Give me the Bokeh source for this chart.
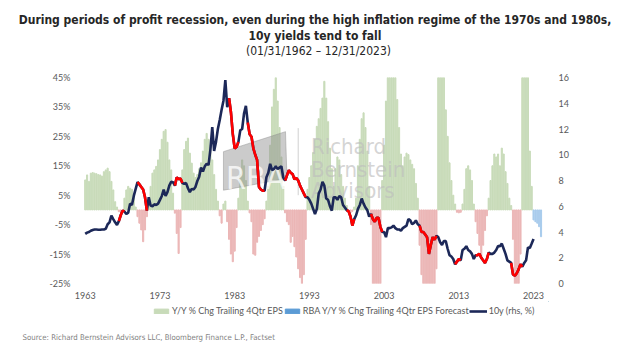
import numpy as np
from bokeh.plotting import figure
from bokeh.layouts import column
from bokeh.models import (Range1d, LinearAxis, FixedTicker, PrintfTickFormatter,
                          Legend, LegendItem, ColumnDataSource, Title)
from bokeh.embed import file_html
from bokeh.resources import INLINE
from bokeh.core.properties import value

# ---------------- data (quarterly) ----------------
first_quarter = 1963.0
quarter = 0.25

# Y/Y % change trailing 4-quarter EPS, 1963Q1 .. 2022Q4
eps_growth = [
    10.2, 11.9, 9.7, 12.5,   12.7, 12.5, 12.3, 12.0,   11.9, 11.5, 13.0, 13.6,   14.2, 13.0, 9.7, 6.8,
    2.8, 1.0, -0.6, -0.8,    -0.4, 4.0, 6.8, 8.0,      7.4, 7.0, 4.5, 1.0,       -2.3, -4.5, -6.8, -10.8,
    -6.8, -2.3, 2.3, 8.0,    12.5, 13.6, 14.8, 17.0,   20.5, 24.0, 26.7, 27.3,   23.0, 17.0, 13.6, 5.7,
    -1.1, -8.0, -14.8, -6.0, 13.6, 20.5, 23.3, 24.4,   19.3, 15.9, 12.5, 11.0,   12.0, 14.0, 16.0, 20.0,
    24.0, 26.0, 24.0, 22.0,  17.0, 12.0, 7.0, 3.0,     -2.0, -4.5, 2.0, 3.0,     -4.0, -10.0, -15.0, -17.6,
    -14.0, -6.0, 4.0, 12.0,  17.0, 15.0, 10.0, 3.0,    -1.0, -4.0, -15.0, -15.4, -11.0, -9.0, -7.0, -5.0,
    -3.0, 3.0, 8.0, 22.0,    35.0, 41.0, 48.0, 37.0,   28.0, 18.0, 8.0, -1.0,    -4.0, -5.0, -11.0, -9.0,
    -12.5, -16.0, -20.0, -23.0, -27.0, -22.0, -10.0, 7.0, 11.0, 15.0, 19.5, 24.0, 28.4, 31.0, 34.5, 38.0,
    43.7, 38.0, 30.0, 21.0,  14.0, 8.0, 14.0, 18.0,    17.0, 12.0, 8.0, 4.0,     1.5, -0.8, -1.0, -0.5,
    1.0, 4.0, 15.0, 24.0,    31.0, 33.0, 28.0, 20.0,   8.0, -5.0, -30.0, -45.0,  -50.0, -40.0, -30.0, 10.0,
    22.0, 37.0, 55.0, 70.0,  65.0, 55.0, 48.0, 37.5,   28.0, 19.0, 15.0, 18.0,   19.3, 18.8, 17.0, 15.5,
    14.0, 9.0, 4.0, -12.0,   -22.0, -35.0, -50.0, -70.0, -80.0, -75.0, -60.0, -40.0, -20.0, 60.0, 90.0, 80.0,
    55.0, 34.0, 25.0, 16.0,  10.0, 5.0, 2.0, -0.8,     -1.0, -0.8, 2.0, 7.0,     14.0, 15.0, 13.6, 10.0,
    2.0, -4.0, -8.0, -12.0,  -16.0, -12.0, -7.0, -2.0, 4.0, 10.0, 15.0, 19.0,    18.0, 19.0, 15.0, 21.0,
    19.0, 13.0, 9.0, 4.0,    1.5, -10.0, -30.0, -35.0, -28.0, -15.0, 60.0, 70.0, 65.0, 50.0, 20.0, 8.0,
]

# RBA forecast of Y/Y % change trailing 4-quarter EPS
forecast_quarters = [2023.0, 2023.25, 2023.5, 2023.75, 2024.0]
eps_forecast = [-3.4, -4.0, -4.5, -5.7, -9.1]

# 10-year Treasury yield (%), 1963Q1 .. 2023Q1
yield_10y = [
    3.85, 3.95, 4.00, 4.10,  4.16, 4.20, 4.19, 4.18,  4.18, 4.20, 4.20, 4.25,  4.60, 4.75, 5.27, 5.00,
    4.75, 4.55, 4.84, 5.30,  5.66, 5.60, 5.40, 5.50,  6.20, 6.10, 6.80, 7.35,  7.87, 7.70, 7.50, 7.30,
    6.70, 5.66, 6.70, 6.05,  6.00, 6.15, 6.10, 6.20,  6.50, 6.80, 7.30, 6.80,  7.10, 7.60, 7.90, 7.87,
    7.60, 8.25, 8.10, 8.15,  7.80, 7.75, 7.80, 7.40,  7.10, 7.35, 7.30, 7.50,  7.96, 8.30, 9.00, 8.70,
    9.10, 9.30, 9.20, 10.40, 12.15, 10.30, 11.00, 12.00, 12.70, 13.50, 14.20, 15.80, 13.70, 14.40, 13.30, 11.60,
    10.50, 10.60, 11.00, 11.90, 12.00, 13.20, 13.80, 12.50, 11.60, 11.40, 10.50, 10.00, 9.60, 7.50, 7.30, 7.20,
    7.20, 8.25, 8.60, 9.30,  8.80, 8.90, 9.10, 8.90,  9.00, 9.10, 8.25, 8.00,  8.40, 8.80, 8.60, 8.50,
    8.10, 8.20, 8.00, 7.60,  7.30, 7.00, 6.70, 6.70,  6.50, 6.20, 5.80, 5.40,  5.80, 7.00, 7.30, 7.90,
    7.60, 6.60, 6.50, 6.00,  5.66, 6.70, 6.70, 6.50,  6.80, 6.70, 6.10, 5.90,  5.70, 5.60, 5.20, 4.50,
    5.00, 5.30, 5.80, 6.10,  6.60, 6.20, 5.90, 5.70,  5.20, 5.40, 5.00, 4.80,  5.10, 5.10, 4.40, 4.00,
    4.00, 3.60, 4.30, 4.30,  4.36, 4.50, 4.30, 4.20,  4.20, 4.10, 4.30, 4.40,  4.50, 5.00, 4.90, 4.60,
    4.70, 4.90, 4.60, 4.50,  4.00, 4.00, 3.80, 3.60,  2.30, 3.00, 3.60, 3.40,  3.70, 3.60, 3.20, 3.00,
    3.30, 3.30, 2.70, 2.20,  2.10, 1.90, 1.50, 1.70,  1.90, 1.80, 2.60, 2.70,  2.90, 2.60, 2.50, 2.30,
    1.90, 2.20, 2.20, 2.30,  2.00, 1.80, 1.60, 1.90,  2.40, 2.30, 2.30, 2.40,  2.60, 2.90, 2.90, 3.10,
    2.70, 2.30, 1.80, 1.70,  1.60, 0.70, 0.60, 0.80,  1.10, 1.50, 1.30, 1.60,  1.80, 2.80, 2.75, 3.10,
    3.46,
]

# profit-recession periods (shown in red on the yield line)
recession_start = [1967.5, 1970.0, 1975.0, 1982.25, 1984.75, 1989.75, 1998.0, 2001.25, 2007.75, 2012.5, 2015.25, 2020.0]
recession_end = [1968.25, 1971.25, 1976.0, 1983.5, 1987.0, 1992.5, 1999.0, 2002.75, 2010.0, 2013.25, 2017.0, 2021.5]

x_ticks = [1963, 1973, 1983, 1993, 2003, 2013, 2023]
left_ticks = [-25, -15, -5, 5, 15, 25, 35, 45]
right_ticks = [0, 2, 4, 6, 8, 10, 12, 14, 16]

title_lines = [
    "During periods of profit recession, even during the high inflation regime of the 1970s and 1980s,",
    "10y yields tend to fall",
    "(01/31/1962 \u2013 12/31/2023)",
]
source_text = "Source: Richard Bernstein Advisors LLC, Bloomberg Finance L.P., Factset"
legend_labels = ["Y/Y % Chg Trailing 4Qtr EPS", "RBA Y/Y % Chg Trailing 4Qtr EPS Forecast", "10y (rhs, %)"]

# ---------------- styling ----------------
GREEN = "#c8dbb9"
PINK = "#ebb6b6"
BLUE_BAR = "#a8cbec"
BLUE_LEG = "#5b9bd5"
NAVY = "#1c2858"
RED = "#ff0000"
GREY_TXT = "#595959"
NARROW = "DejaVu Sans Condensed"
TICKFONT = "Lato"

W = 624
FL, FR = 81, 548                 # frame left / right (canvas px), shared by all rows
FW = FR - FL
HEAD_TOP, HEAD_FRAME = 42, 22    # header: title panel + small frame
MAIN_TOP, MAIN_FRAME, MAIN_BOT = 13, 206, 18
FOOT_FRAME, FOOT_BOT = 20, 31
HEAD_H = HEAD_TOP + HEAD_FRAME
MAIN_H = MAIN_TOP + MAIN_FRAME + MAIN_BOT
FOOT_H = FOOT_FRAME + FOOT_BOT
Y0_FOOT = HEAD_H + MAIN_H        # canvas y of footer top


def blank_fig(h, top, frame_h, bot, y_top):
    f = figure(width=W, height=h, frame_width=FW, frame_height=frame_h,
               output_backend="svg", toolbar_location=None,
               x_range=Range1d(FL, FR), y_range=Range1d(y_top + frame_h, y_top),
               x_axis_type=None, y_axis_type=None,
               min_border_left=FL, min_border_right=W - FR, min_border_top=top, min_border_bottom=bot,
               background_fill_color="white", border_fill_color="white", outline_line_color=None)
    f.xgrid.visible = False
    f.ygrid.visible = False
    return f


# ---------------- header ----------------
head = blank_fig(HEAD_H, HEAD_TOP, HEAD_FRAME, 0, HEAD_TOP)
head.add_layout(Title(text=title_lines[1], align="center", offset=3, standoff=0, text_font=NARROW,
                      text_font_size="12px", text_font_style="bold", text_color="#262626"), "above")
head.add_layout(Title(text=title_lines[0], align="center", offset=3, standoff=0, text_font=NARROW,
                      text_font_size="12px", text_font_style="bold", text_color="#262626"), "above")
head.text([318], [50], text=title_lines[2:], text_font=value(NARROW), text_font_size="12px",
          text_color="#262626", text_align="center", text_baseline="middle")

# ---------------- main chart ----------------
eps_t = first_quarter + quarter * np.arange(len(eps_growth))
yld_t = first_quarter + quarter * np.arange(len(yield_10y))
eps_arr = np.array(eps_growth)
bar_colors = [GREEN if v >= 0 else PINK for v in eps_growth]

p = figure(width=W, height=MAIN_H, frame_width=FW, frame_height=MAIN_FRAME,
           output_backend="svg", toolbar_location=None,
           x_range=Range1d(1962.5, 2025.0), y_range=Range1d(-25, 45),
           min_border_left=FL, min_border_right=W - FR, min_border_top=MAIN_TOP, min_border_bottom=MAIN_BOT,
           background_fill_color="white", border_fill_color="white", outline_line_color=None)
p.extra_y_ranges = {"rhs": Range1d(0, 16)}
p.xgrid.visible = False
p.ygrid.visible = False

src = ColumnDataSource(dict(x=eps_t, top=eps_arr, color=bar_colors))
p.vbar(x="x", top="top", bottom=0, width=0.15, color="color", source=src)
p.vbar(x=forecast_quarters, top=eps_forecast, bottom=0, width=0.15, color=BLUE_BAR)

# watermark (behind line)
p.patch([1981.5, 1989.8, 1990.0, 1981.5], [19.8, 26.6, 10.7, 6.7], color="#8c8c8c", alpha=0.45)
p.text([1985.8], [11.0], text=["RBA"], text_font=value(NARROW), text_font_size="32px",
       text_color="white", text_alpha=0.75, text_align="center", text_baseline="alphabetic")
p.segment([1991.5], [27.8], [1991.5], [5.0], line_color="#d0d0d0", line_width=1)
p.text([1993.2] * 3, [21.4, 13.9, 6.7], text=["Richard", "Bernstein", "Advisors"],
       text_font=value(NARROW), text_font_size="22px", text_color="#bdbdbd", text_alpha=0.65,
       text_align="left", text_baseline="alphabetic")

# yield line, red over profit recessions
p.line(yld_t, yield_10y, y_range_name="rhs", line_color=NAVY, line_width=2.6)
for a, b in zip(recession_start, recession_end):
    m = (yld_t >= a - 1e-9) & (yld_t <= b + 1e-9)
    p.line(yld_t[m], np.array(yield_10y)[m], y_range_name="rhs", line_color=RED, line_width=2.6)


def style_axis(ax):
    ax.axis_line_color = None
    ax.major_tick_line_color = None
    ax.minor_tick_line_color = None
    ax.major_label_text_font = TICKFONT
    ax.major_label_text_font_size = "9px"
    ax.major_label_text_color = GREY_TXT


p.yaxis.ticker = FixedTicker(ticks=left_ticks)
p.yaxis.formatter = PrintfTickFormatter(format="%d%%")
p.yaxis.major_label_standoff = 5
style_axis(p.yaxis[0])
p.xaxis.ticker = FixedTicker(ticks=x_ticks)
p.xaxis.formatter = PrintfTickFormatter(format="%d")
p.xaxis.major_label_standoff = 2
style_axis(p.xaxis[0])
ry = LinearAxis(y_range_name="rhs", ticker=FixedTicker(ticks=right_ticks))
ry.major_label_standoff = 4
style_axis(ry)
p.add_layout(ry, "right")

# ---------------- footer: legend + source ----------------
# legend swatches: renderers whose (real) data lie outside this footer's pixel ranges
foot = blank_fig(FOOT_H, 0, FOOT_FRAME, FOOT_BOT, Y0_FOOT)
d1 = foot.vbar(x=eps_t[:1], top=eps_arr[:1], width=1, color=GREEN)
d2 = foot.vbar(x=forecast_quarters[:1], top=eps_forecast[:1], width=1, color=BLUE_LEG)
d3 = foot.line(x=yld_t[:2], y=yield_10y[:2], line_color=NAVY, line_width=2.6)
leg = Legend(items=[LegendItem(label=legend_labels[0], renderers=[d1]),
                    LegendItem(label=legend_labels[1], renderers=[d2]),
                    LegendItem(label=legend_labels[2], renderers=[d3])],
             orientation="horizontal", location=(70, 4),
             glyph_width=18, glyph_height=6, label_standoff=2, spacing=0, padding=1, margin=0,
             label_text_font=TICKFONT, label_text_font_size="9px", label_text_color=GREY_TXT,
             label_height=10, background_fill_alpha=0, border_line_alpha=0)
foot.add_layout(leg, "center")
foot.add_layout(Title(text=source_text, align="left", offset=22 - FL, standoff=18,
                      text_font=NARROW, text_font_size="7.8px", text_font_style="normal",
                      text_color="#7f7f7f"), "below")

layout = column(head, p, foot, spacing=0)
open("out.html", "w").write(file_html(layout, INLINE))
